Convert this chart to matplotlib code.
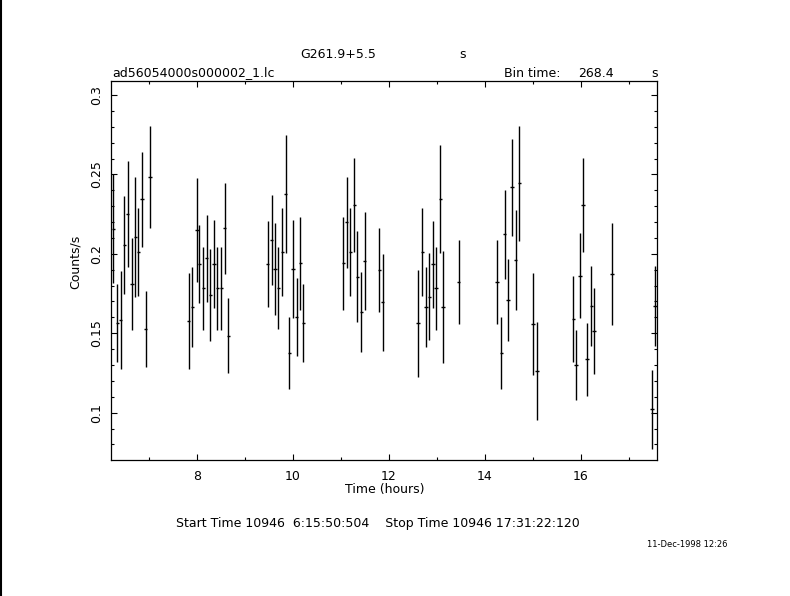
import matplotlib
matplotlib.use('Agg')
import matplotlib.pyplot as plt
from matplotlib.lines import Line2D
from matplotlib.ticker import MultipleLocator
import numpy as np

# light curve (time in hours, counts/s, 1-sigma error)
time_h = [6.256, 6.340, 6.410, 6.485, 6.556, 6.640, 6.715, 6.777, 6.860, 6.931, 7.021,
          7.827, 7.902, 7.994, 8.048, 8.131, 8.202, 8.277, 8.360, 8.423, 8.506, 8.577, 8.652,
          9.473, 9.556, 9.625, 9.694, 9.777, 9.848, 9.923, 10.006, 10.077, 10.152, 10.215,
          11.048, 11.119, 11.194, 11.277, 11.340, 11.423, 11.494, 11.798, 11.869,
          12.610, 12.694, 12.765, 12.840, 12.917, 12.985, 13.069, 13.131, 13.452,
          14.256, 14.340, 14.410, 14.485, 14.563, 14.640, 14.715, 15.006, 15.083,
          15.840, 15.902, 15.985, 16.048, 16.131, 16.215, 16.277, 16.652, 17.485, 17.548]
rate = [0.2158, 0.1563, 0.1584, 0.2056, 0.2251, 0.1810, 0.2108, 0.2010, 0.2345, 0.1527, 0.2482,
        0.1577, 0.1667, 0.2150, 0.1936, 0.1783, 0.1972, 0.1741, 0.1936, 0.1783, 0.1783, 0.2161, 0.1485,
        0.1936, 0.2087, 0.1905, 0.1783, 0.2010, 0.2375, 0.1374, 0.1905, 0.1601, 0.1940, 0.1563,
        0.1940, 0.2199, 0.2010, 0.2308, 0.1856, 0.1632, 0.1955, 0.1898, 0.1695,
        0.1563, 0.2010, 0.1667, 0.1730, 0.1934, 0.1783, 0.2345, 0.1667, 0.1821,
        0.1821, 0.1374, 0.2123, 0.1709, 0.2419, 0.1961, 0.2444, 0.1558, 0.1263,
        0.1590, 0.1300, 0.1861, 0.2308, 0.1336, 0.1672, 0.1514, 0.1873, 0.1021, 0.1672]
rate_err = [0.0343, 0.0245, 0.0308, 0.0309, 0.0336, 0.0288, 0.0378, 0.0276, 0.0299, 0.0240, 0.0320,
            0.0302, 0.0251, 0.0325, 0.0245, 0.0260, 0.0273, 0.0292, 0.0274, 0.0260, 0.0260, 0.0286, 0.0236,
            0.0273, 0.0282, 0.0288, 0.0258, 0.0276, 0.0372, 0.0227, 0.0306, 0.0244, 0.0291, 0.0245,
            0.0294, 0.0286, 0.0276, 0.0294, 0.0285, 0.0253, 0.0307, 0.0264, 0.0304,
            0.0337, 0.0276, 0.0251, 0.0275, 0.0273, 0.0260, 0.0341, 0.0352, 0.0264,
            0.0264, 0.0227, 0.0281, 0.0257, 0.0304, 0.0312, 0.0361, 0.0324, 0.0310,
            0.0269, 0.0223, 0.0268, 0.0294, 0.0228, 0.0252, 0.0273, 0.0318, 0.0250, 0.0252]
bin_time = 268.4  # seconds

fig = plt.figure(figsize=(7.9, 5.96), dpi=100)
ax = fig.add_axes([0.1405, 0.2282, 0.6911, 0.6359])

half_bin = bin_time / 3600 / 2
ax.errorbar(time_h, rate, yerr=rate_err, xerr=half_bin, fmt='none',
            ecolor='k', elinewidth=1.0, capsize=0)

ax.set_xlim(6.208, 17.583)
ax.set_ylim(0.0702, 0.3088)
ax.xaxis.set_major_locator(MultipleLocator(2))
ax.xaxis.set_minor_locator(MultipleLocator(1))
ax.yaxis.set_major_locator(MultipleLocator(0.05))
ax.yaxis.set_minor_locator(MultipleLocator(0.01))
ax.yaxis.set_major_formatter(plt.FuncFormatter(lambda v, p: f'{v:g}'))
ax.tick_params(which='both', direction='in', top=True, right=True, width=0.8, labelsize=9)
ax.tick_params(which='major', length=4.3)
ax.tick_params(which='minor', length=2.2)
ax.tick_params(axis='x', pad=7)
ax.tick_params(axis='y', pad=6)
for lab in ax.get_yticklabels():
    lab.set_rotation(90)
    lab.set_va('center')
for sp in ax.spines.values():
    sp.set_linewidth(0.9)

# header / footer texts
fig.text(0.428, 0.908, 'G261.9+5.5', ha='center', va='center', fontsize=9)
fig.text(0.585, 0.908, 's', ha='center', va='center', fontsize=9)
fig.text(0.142, 0.8775, 'ad56054000s000002_1.lc', ha='left', va='center', fontsize=9)
fig.text(0.638, 0.8775, 'Bin time:', ha='left', va='center', fontsize=9)
fig.text(0.732, 0.8775, f'{bin_time}', ha='left', va='center', fontsize=9)
fig.text(0.828, 0.8775, 's', ha='center', va='center', fontsize=9)
fig.text(0.095, 0.56, 'Counts/s', rotation=90, ha='center', va='center', fontsize=9)
fig.text(0.487, 0.178, 'Time (hours)', ha='center', va='center', fontsize=9)
fig.text(0.223, 0.121, 'Start Time 10946  6:15:50:504    Stop Time 10946 17:31:22:120',
         ha='left', va='center', fontsize=9)
fig.text(0.819, 0.0856, '11-Dec-1998 12:26', ha='left', va='center', fontsize=6)

# black strip on the left edge of the page
fig.add_artist(Line2D([0.001, 0.001], [0, 1], transform=fig.transFigure, color='k', lw=1.5))

fig.savefig('out.png', dpi=100)
